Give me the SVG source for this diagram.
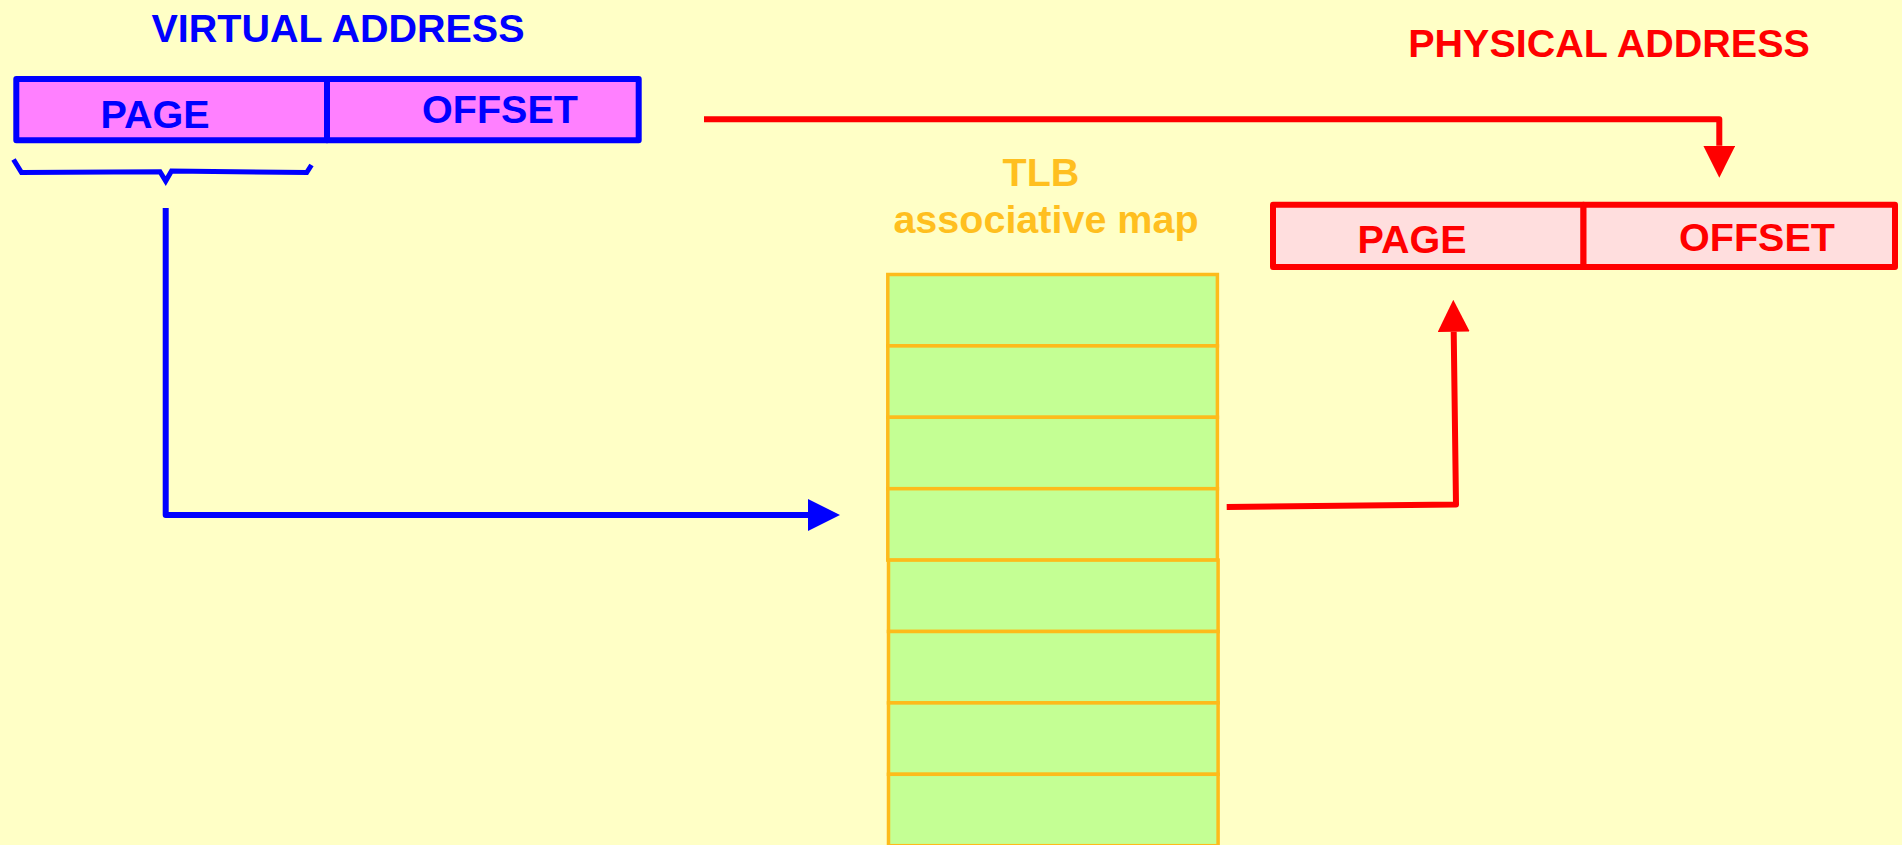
<svg xmlns="http://www.w3.org/2000/svg" width="1902" height="845" viewBox="0 0 1902 845">
  <style>
    .lbl { font-family: "Liberation Sans", Arial, sans-serif; font-weight: bold; font-size: 39.5px; }
    .blue { fill: #0000FF; }
    .red { fill: #FF0000; }
    .amber { fill: #FFBF1F; }
    .vbox { fill: #FF80FF; stroke: #0000FF; stroke-width: 6; stroke-linejoin: round; }
    .pbox { fill: #FFDEDE; stroke: #FF0000; stroke-width: 6; stroke-linejoin: round; }
    .row { fill: #C4FF94; stroke: #FDBB1B; stroke-width: 3.5; }
    .wire { fill: none; stroke-width: 6; stroke-linejoin: round; stroke-linecap: butt; }
  </style>
  <defs>
    <marker id="headBlue" viewBox="0 0 32 32" markerWidth="32" markerHeight="32" markerUnits="userSpaceOnUse" refX="0" refY="16" orient="auto">
      <path d="M0,0 L32,16 L0,32 z" fill="#0000FF"/>
    </marker>
    <marker id="headRed" viewBox="0 0 32 32" markerWidth="32" markerHeight="32" markerUnits="userSpaceOnUse" refX="0" refY="16" orient="auto">
      <path d="M0,0 L32,16 L0,32 z" fill="#FF0000"/>
    </marker>
  </defs>

  <rect x="0" y="0" width="1902" height="845" fill="#FFFFC6"/>

  <!-- virtual address register -->
  <g id="virtual-address">
    <text class="lbl blue" x="338" y="41.5" text-anchor="middle">VIRTUAL ADDRESS</text>
    <rect class="vbox" x="16.3" y="79" width="310.7" height="61.3"/>
    <rect class="vbox" x="327" y="79" width="311.7" height="61.3"/>
    <text class="lbl blue" x="155" y="127.5" text-anchor="middle">PAGE</text>
    <text class="lbl blue" x="500" y="123" text-anchor="middle">OFFSET</text>
    <path d="M13.5,159.5 L21.5,172.5 L160,171.7 L165.7,181 L171.5,171 L306.7,172.5 L311.5,165" fill="none" stroke="#0000FF" stroke-width="5"/>
  </g>

  <!-- physical address register -->
  <g id="physical-address">
    <text class="lbl red" x="1609" y="57" text-anchor="middle">PHYSICAL ADDRESS</text>
    <rect class="pbox" x="1273" y="204.7" width="310.5" height="62.3"/>
    <rect class="pbox" x="1583.5" y="204.7" width="311.5" height="62.3"/>
    <text class="lbl red" x="1412" y="253" text-anchor="middle">PAGE</text>
    <text class="lbl red" x="1757" y="250.5" text-anchor="middle">OFFSET</text>
  </g>

  <!-- translation lookaside buffer -->
  <g id="tlb">
    <text class="lbl amber" x="1041" y="186" text-anchor="middle">TLB</text>
    <text class="lbl amber" x="1046" y="233" text-anchor="middle">associative map</text>
    <rect class="row" x="887.8" y="274.5" width="329.6" height="71.4"/>
    <rect class="row" x="887.8" y="345.9" width="329.6" height="71.4"/>
    <rect class="row" x="887.8" y="417.3" width="329.6" height="71.4"/>
    <rect class="row" x="887.8" y="488.7" width="329.6" height="71.4"/>
    <rect class="row" x="888.5" y="560.1" width="329.6" height="71.4"/>
    <rect class="row" x="888.5" y="631.5" width="329.6" height="71.4"/>
    <rect class="row" x="888.5" y="702.9" width="329.6" height="71.4"/>
    <rect class="row" x="888.5" y="774.3" width="329.6" height="71.4"/>
  </g>

  <!-- connectors -->
  <g id="connectors">
    <path class="wire" stroke="#0000FF" d="M165.7,208 L165.7,515 L808,515" marker-end="url(#headBlue)"/>
    <path class="wire" stroke="#FF0000" stroke-linecap="round" d="M704,119.3 L1719.3,119.3 L1719.3,145.7" marker-end="url(#headRed)"/>
    <path class="wire" stroke="#FF0000" d="M1226.7,507 L1456,504.5 L1453.7,331.7" marker-end="url(#headRed)"/>
  </g>
</svg>
